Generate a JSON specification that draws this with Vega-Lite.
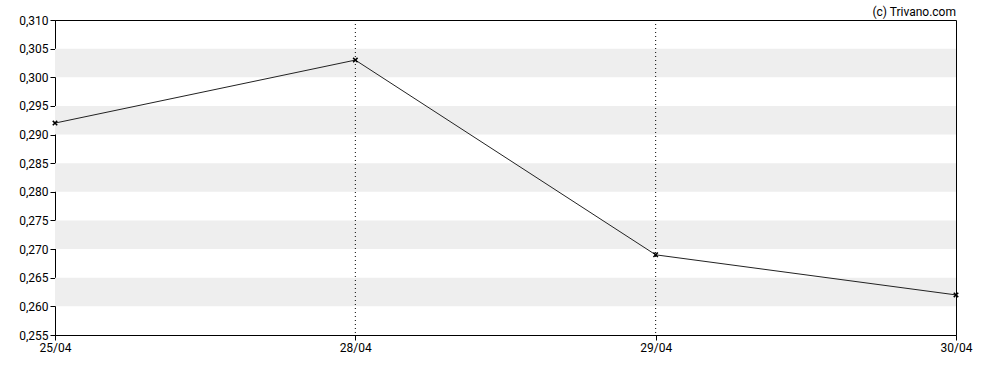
{
  "$schema": "https://vega.github.io/schema/vega-lite/v6.json",
  "width": 901,
  "height": 315,
  "autosize": {"type": "none"},
  "padding": {"left": 55, "top": 20, "right": 32, "bottom": 35},
  "title": {"text": "(c) Trivano.com", "anchor": "end", "frame": "group", "fontSize": 12, "fontWeight": "normal", "font": "Roboto", "color": "#000000", "offset": 3, "dy": 8},
  "config": {
    "view": {"stroke": "#000000", "strokeWidth": 1},
    "font": "Roboto",
    "axis": {"labelFont": "Roboto", "labelFontSize": 12, "labelColor": "#000000", "domainColor": "#000000", "tickColor": "#000000", "tickSize": 5, "grid": false, "title": null, "labelOverlap": false, "labelFlush": false}
  },
  "datasets": {
    "prices": [
      {"date": "25/04", "price": 0.292},
      {"date": "28/04", "price": 0.303},
      {"date": "29/04", "price": 0.269},
      {"date": "30/04", "price": 0.262}
    ],
    "bands": [
      {"lo": 0.300, "hi": 0.305},
      {"lo": 0.290, "hi": 0.295},
      {"lo": 0.280, "hi": 0.285},
      {"lo": 0.270, "hi": 0.275},
      {"lo": 0.260, "hi": 0.265}
    ],
    "vlines": [
      {"date": "28/04"},
      {"date": "29/04"}
    ]
  },
  "layer": [
    {
      "data": {"name": "bands"},
      "mark": {"type": "rect", "color": "#eeeeee"},
      "encoding": {
        "y": {"field": "lo", "type": "quantitative", "scale": {"domain": [0.255, 0.31], "nice": false, "zero": false}, "axis": {"values": [0.255, 0.26, 0.265, 0.27, 0.275, 0.28, 0.285, 0.29, 0.295, 0.3, 0.305, 0.31], "labelExpr": "replace(format(datum.value, '.3f'), '.', ',')", "labelPadding": 2}},
        "y2": {"field": "hi"}
      }
    },
    {
      "data": {"name": "vlines"},
      "mark": {"type": "rule", "color": "#000000", "strokeDash": [1, 3], "strokeWidth": 1},
      "encoding": {
        "x": {"field": "date", "type": "ordinal", "sort": ["25/04", "28/04", "29/04", "30/04"], "scale": {"type": "point", "padding": 0, "domain": ["25/04", "28/04", "29/04", "30/04"]}, "axis": {"labelAngle": 0, "labelAlign": "center", "labelBaseline": "top", "labelPadding": 2}}
      }
    },
    {
      "data": {"name": "prices"},
      "mark": {"type": "line", "color": "#222222", "strokeWidth": 1},
      "encoding": {
        "x": {"field": "date", "type": "ordinal", "sort": ["25/04", "28/04", "29/04", "30/04"], "axis": {"labelAngle": 0, "labelAlign": "center", "labelBaseline": "top", "labelPadding": 2}},
        "y": {"field": "price", "type": "quantitative", "axis": {"values": [0.255, 0.26, 0.265, 0.27, 0.275, 0.28, 0.285, 0.29, 0.295, 0.3, 0.305, 0.31], "labelExpr": "replace(format(datum.value, '.3f'), '.', ',')", "labelPadding": 2}}
      }
    },
    {
      "data": {"name": "prices"},
      "mark": {"type": "point", "shape": "M-1,-1L1,1M-1,1L1,-1", "size": 20, "filled": false, "strokeWidth": 1.5, "color": "#000000", "opacity": 1},
      "encoding": {
        "x": {"field": "date", "type": "ordinal", "sort": ["25/04", "28/04", "29/04", "30/04"], "axis": {"labelAngle": 0, "labelAlign": "center", "labelBaseline": "top", "labelPadding": 2}},
        "y": {"field": "price", "type": "quantitative", "axis": {"values": [0.255, 0.26, 0.265, 0.27, 0.275, 0.28, 0.285, 0.29, 0.295, 0.3, 0.305, 0.31], "labelExpr": "replace(format(datum.value, '.3f'), '.', ',')", "labelPadding": 2}}
      }
    }
  ]
}
